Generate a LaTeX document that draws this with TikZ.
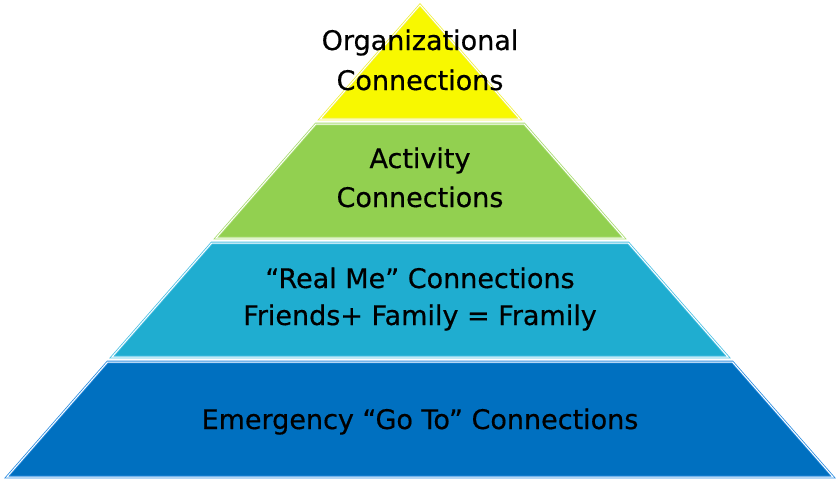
\documentclass[tikz,border=0pt]{standalone}
\usepackage{fontspec}
\setmainfont{DejaVu Sans}
\newfontfamily\tierfont[FakeBold=0.5]{DejaVu Sans}
\usepackage{tikz}
\usetikzlibrary{calc}
\definecolor{TierYellow}{HTML}{F8F800}
\definecolor{TierGreen}{HTML}{92D050}
\definecolor{TierCyan}{HTML}{1FADD0}
\definecolor{TierBlue}{HTML}{0070C0}
\definecolor{EdgeYellow}{HTML}{F0F040}
\definecolor{EdgeGreen}{HTML}{A8DC70}
\definecolor{EdgeCyan}{HTML}{4CC0E4}
\definecolor{EdgeBlue}{HTML}{2A8CE0}

\begin{document}
\begin{tikzpicture}[
  x=1pt,y=-1pt,
  line join=miter,
  tier/.style={line width=.8pt,double=white,double distance=1pt},
  every node/.style={font=\tierfont\fontsize{27}{32}\selectfont,text=black,inner sep=0pt}
]
  \useasboundingbox (0,0) rectangle (840,483);

  \pgfmathsetmacro{\apexx}{420}
  \pgfmathsetmacro{\apexy}{5}
  \pgfmathsetmacro{\slope}{0.875}
  % half widths of the pyramid at each tier edge
  \pgfmathsetmacro{\hwYb}{(119-\apexy)*\slope}
  \pgfmathsetmacro{\hwGt}{(124-\apexy)*\slope}
  \pgfmathsetmacro{\hwGb}{(238-\apexy)*\slope}
  \pgfmathsetmacro{\hwCt}{(243-\apexy)*\slope}
  \pgfmathsetmacro{\hwCb}{(357-\apexy)*\slope}
  \pgfmathsetmacro{\hwBt}{(362-\apexy)*\slope}
  \pgfmathsetmacro{\hwBb}{(477-\apexy)*\slope}

  \coordinate (apex) at (\apexx,\apexy);

  \path[tier,fill=TierYellow,draw=EdgeYellow]
    (apex)--(\apexx+\hwYb,119)--(\apexx-\hwYb,119)--cycle;
  \path[tier,fill=TierGreen,draw=EdgeGreen]
    (\apexx-\hwGt,124)--(\apexx+\hwGt,124)--(\apexx+\hwGb,238)
    --(\apexx-\hwGb,238)--cycle;
  \path[tier,fill=TierCyan,draw=EdgeCyan]
    (\apexx-\hwCt,243)--(\apexx+\hwCt,243)--(\apexx+\hwCb,357)
    --(\apexx-\hwCb,357)--cycle;
  \path[tier,fill=TierBlue,draw=EdgeBlue]
    (\apexx-\hwBt,362)--(\apexx+\hwBt,362)--(\apexx+\hwBb,477)
    --(\apexx-\hwBb,477)--cycle;

  \node[anchor=base] (org1) at (\apexx,50) {Organizational};
  \node[anchor=base] (org2) at (\apexx,90) {Connections};
  \node[anchor=base] (act1) at (\apexx,168) {Activity};
  \node[anchor=base] (act2) at (\apexx,207) {Connections};
  \node[anchor=base] (real1) at (\apexx,288) {“Real Me” Connections};
  \node[anchor=base] (real2) at (\apexx,325) {Friends+ Family = Framily};
  \node[anchor=base] (emer) at (\apexx,429) {Emergency “Go To” Connections};
\end{tikzpicture}
\end{document}
